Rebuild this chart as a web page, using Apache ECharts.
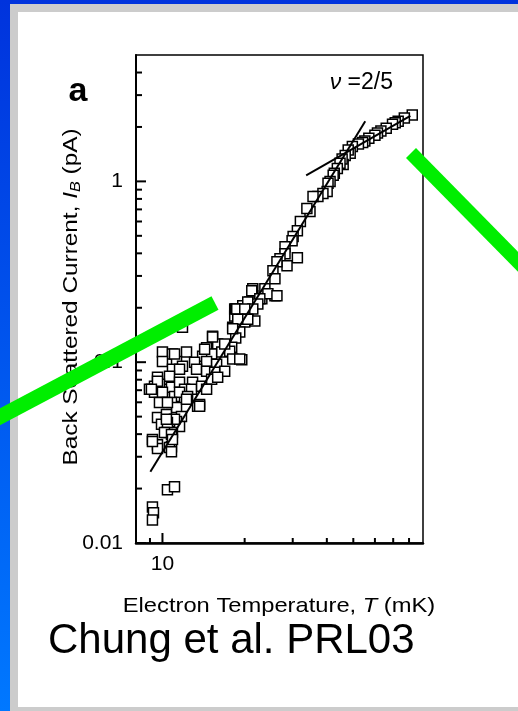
<!DOCTYPE html>
<html><head><meta charset="utf-8">
<script src="https://cdn.jsdelivr.net/npm/echarts/dist/echarts.min.js"></script>
<style>html,body{margin:0;padding:0;background:#fff}#c{width:518px;height:711px}</style>
</head><body><div id="c"></div>
<script>
// ---- data ----
const temperatureMK = [
 82.2,76.9,73.0,71.2,69.6,66.0,63.1,61.3,60.0,57.0,55.1,54.1,52.2,49.6,48.7,47.9,46.7,45.9,45.5,44.7,
 43.7,42.6,42.2,41.1,40.4,40.1,38.7,37.1,35.6,34.7,33.8,32.0,31.2,30.1,29.84,28.11,28.11,26.94,31.2,28.59,
 26.26,25.39,25.82,25.82,23.72,21.42,23.12,21.42,20.89,19.68,18.39,20.53,18.39,20.36,19.19,
 21.24,24.33,26.26,22.73,20.53,22.35,21.42,18.55,19.68,21.79,20.02,18.08,19.19,11.84,15.26,15.93,18.55,17.93,14.51,
 10.0,10.88,12.25,14.03,15.14,16.49,17.63,19.52,18.08,10.0,11.26,11.84,13.11,14.51,15.79,16.90,10.88,11.55,13.33,14.51,
 15.53,10.61,9.59,9.35,10.0,8.96,9.75,10.79,11.55,12.89,12.05,12.78,13.91,15.14,15.93,14.51,9.35,10.0,11.07,11.55,
 12.36,13.68,10.79,9.75,11.26,11.74,9.59,9.92,10.61,11.26,11.55,10.34,10.88,9.19,9.59,10.79,9.59,10.43,12.25,13.45,
 10.34,11.07,10.43,10.17,10.79,9.19,10.61,10.79,10.88,10.43,11.07,9.19,9.27,9.19,18.71,20.02,18.87,20.53,18.08,15.26,
 14.27,16.90,11.07,19.19,9.59,9.11,13.68,10.34
];
const currentPA = [
 2.33,2.24,2.15,2.11,2.07,1.97,1.90,1.85,1.80,1.73,1.67,1.64,1.61,1.56,1.43,1.49,1.39,1.24,1.33,1.26,
 1.18,1.11,1.08,1.00,0.975,0.880,0.858,0.825,0.825,0.681,0.708,0.599,0.534,0.495,0.470,0.435,0.398,0.373,0.378,0.341,
 0.359,0.320,0.289,0.233,0.255,0.255,0.224,0.233,0.215,0.205,0.197,0.192,0.180,0.180,0.173,
 0.248,0.239,0.233,0.224,0.215,0.210,0.197,0.197,0.185,0.169,0.167,0.156,0.147,0.156,0.139,0.126,0.136,0.121,0.120,
 0.114,0.111,0.114,0.108,0.111,0.114,0.115,0.103,0.104,0.101,0.101,0.095,0.100,0.101,0.0975,0.0891,0.0914,0.0914,0.0914,0.0891,
 0.0880,0.0836,0.0825,0.0736,0.0708,0.0708,0.0755,0.0726,0.0774,0.0774,0.0708,0.0708,0.0736,0.0805,0.0825,0.0708,0.0681,0.0681,0.0647,0.0681,
 0.0647,0.0584,0.0599,0.0599,0.0562,0.0501,0.0495,0.0453,0.0464,0.0470,0.0441,0.0408,0.0408,0.0374,0.0350,0.0341,0.0333,0.0599,0.0623,0.0570,
 0.0514,0.0483,0.0464,0.0408,0.0398,0.0364,0.0337,0.0320,0.0374,0.0197,0.0205,0.0158,0.0147,0.0134,0.197,0.197,0.173,0.173,0.153,0.138,
 0.118,0.126,0.111,0.104,0.0784,0.0708,0.0570,0.0483
];
const steepFitT = [9.03, 55.3];
const steepFitI = [0.0248, 2.15];
const shallowFitT = [33.6, 80.9];
const shallowFitI = [1.08, 2.30];

const xRange = [8, 90];
const yRange = [0.01, 5];
const xMajorTicks = [10];
const xMinorTicks = [9, 20, 30, 40, 50, 60, 70, 80];
const yMajorTicks = [0.01, 0.1, 1];
const yMinorTicks = [0.02,0.03,0.04,0.05,0.06,0.07,0.08,0.09,0.2,0.3,0.4,0.5,0.6,0.7,0.8,0.9,2,3,4];
const xTickLabels = ['10'];
const yTickLabels = ['0.01', '0.1', '1'];

// ---- chart ----
const FONT = 'Liberation Sans, Arial, Helvetica, sans-serif';
const chart = echarts.init(document.getElementById('c'), null, {renderer: 'canvas'});

function pickLabel(v, list) {
  for (const s of list) {
    if (Math.abs(Math.log10(v) - Math.log10(parseFloat(s))) < 1e-6) return s;
  }
  return '';
}
function tickSeries(values, dir, len, width) {
  return {
    type: 'custom', coordinateSystem: 'cartesian2d', silent: true, clip: false, z: 6,
    data: values.map(v => dir === 'y' ? [xRange[0], v] : [v, yRange[0]]),
    renderItem: (params, api) => {
      const p = api.coord([api.value(0), api.value(1)]);
      const shape = dir === 'y'
        ? {x1: p[0], y1: p[1], x2: p[0] + len, y2: p[1]}
        : {x1: p[0], y1: p[1], x2: p[0], y2: p[1] - len};
      return {type: 'line', shape, style: {stroke: '#000', lineWidth: width}};
    }
  };
}
function txt(o) { return Object.assign({type: 'text', silent: true}, o); }

const option = {
  animation: false,
  backgroundColor: 'transparent',
  grid: {left: 136, top: 55, right: 95, bottom: 168, show: true, borderColor: '#000', borderWidth: 1.5, backgroundColor: 'transparent', z: 1},
  xAxis: {
    type: 'log', logBase: 10, min: xRange[0], max: xRange[1],
    axisLine: {show: true, lineStyle: {color: '#000', width: 2.5}},
    axisTick: {show: false}, splitLine: {show: false}, minorTick: {show: false},
    axisLabel: {color: '#000', fontSize: 21, fontFamily: FONT, margin: 11,
      formatter: v => pickLabel(v, xTickLabels), showMinLabel: true, showMaxLabel: true}
  },
  yAxis: {
    type: 'log', logBase: 10, min: yRange[0], max: yRange[1],
    axisLine: {show: true, lineStyle: {color: '#000', width: 2}},
    axisTick: {show: false}, splitLine: {show: false}, minorTick: {show: false},
    axisLabel: {color: '#000', fontSize: 21, fontFamily: FONT, margin: 13,
      formatter: v => pickLabel(v, yTickLabels)}
  },
  graphic: [
    {type: 'rect', z: -100, silent: true, shape: {x: 0, y: 0, width: 518, height: 711},
      style: {fill: new echarts.graphic.LinearGradient(0, 0, 0, 1, [{offset: 0, color: '#0033dd'}, {offset: 1, color: '#0078ff'}])}},
    {type: 'rect', z: -99, silent: true, shape: {x: 10, y: 4, width: 508, height: 707}, style: {fill: '#cccccc'}},
    {type: 'rect', z: -98, silent: true, shape: {x: 18, y: 12, width: 500, height: 695}, style: {fill: '#ffffff'}},
    txt({z: 50, x: 78, y: 92, style: {text: 'a', font: 'bold 34px ' + FONT, fill: '#000', align: 'center', verticalAlign: 'middle', textAlign: 'center', textVerticalAlign: 'middle'}}),
    txt({z: 50, x: 393, y: 83, style: {text: '{i|ν} =2/5', fill: '#000', fontSize: 23, fontFamily: FONT, align: 'right', verticalAlign: 'middle', textAlign: 'right', textVerticalAlign: 'middle',
      rich: {i: {fontStyle: 'italic', fontSize: 23, fontFamily: FONT, fill: '#000'}}}}),
    txt({z: 50, x: 279, y: 606, scaleX: 1.13, style: {text: 'Electron Temperature, {i|T} (mK)', fill: '#000', fontSize: 21, fontFamily: FONT, align: 'center', verticalAlign: 'middle', textAlign: 'center', textVerticalAlign: 'middle',
      rich: {i: {fontStyle: 'italic', fontSize: 21, fontFamily: FONT, fill: '#000'}}}}),
    txt({z: 50, x: 71, y: 297, rotation: Math.PI / 2, scaleX: 1.16, style: {text: 'Back Scattered Current, {i|I}{s|B} (pA)', fill: '#000', fontSize: 21, fontFamily: FONT, align: 'center', verticalAlign: 'middle', textAlign: 'center', textVerticalAlign: 'middle',
      rich: {i: {fontStyle: 'italic', fontSize: 21, fontFamily: FONT, fill: '#000', lineHeight: 25}, s: {fontStyle: 'italic', fontSize: 14, fontFamily: FONT, fill: '#000', lineHeight: 14, verticalAlign: 'bottom'}}}}),
    txt({z: 50, x: 48, y: 641, style: {text: 'Chung et al. PRL03', fill: '#000', fontSize: 42, fontFamily: FONT, align: 'left', verticalAlign: 'middle', textAlign: 'left', textVerticalAlign: 'middle'}}),
    {type: 'line', z: 100, silent: true, shape: {x1: -10, y1: 422, x2: 215, y2: 303}, style: {stroke: '#00ee00', lineWidth: 15, lineCap: 'butt'}},
    {type: 'line', z: 100, silent: true, shape: {x1: 411, y1: 153, x2: 530, y2: 274}, style: {stroke: '#00ee00', lineWidth: 14, lineCap: 'butt'}}
  ],
  series: [
    {type: 'scatter', z: 3, data: temperatureMK.map((t, i) => [t, currentPA[i]]), symbol: 'rect', symbolSize: 10,
      itemStyle: {color: '#ffffff', borderColor: '#000', borderWidth: 1.5, opacity: 1}, silent: true},
    {type: 'line', z: 4, data: steepFitT.map((t, i) => [t, steepFitI[i]]), symbol: 'none', lineStyle: {color: '#000', width: 2}, silent: true},
    {type: 'line', z: 4, data: shallowFitT.map((t, i) => [t, shallowFitI[i]]), symbol: 'none', lineStyle: {color: '#000', width: 2}, silent: true},
    tickSeries(yMajorTicks, 'y', 10, 2),
    tickSeries(yMinorTicks, 'y', 6, 2),
    tickSeries(xMajorTicks, 'x', 10, 2),
    tickSeries(xMinorTicks, 'x', 5, 2)
  ]
};
chart.setOption(option);
</script></body></html>
